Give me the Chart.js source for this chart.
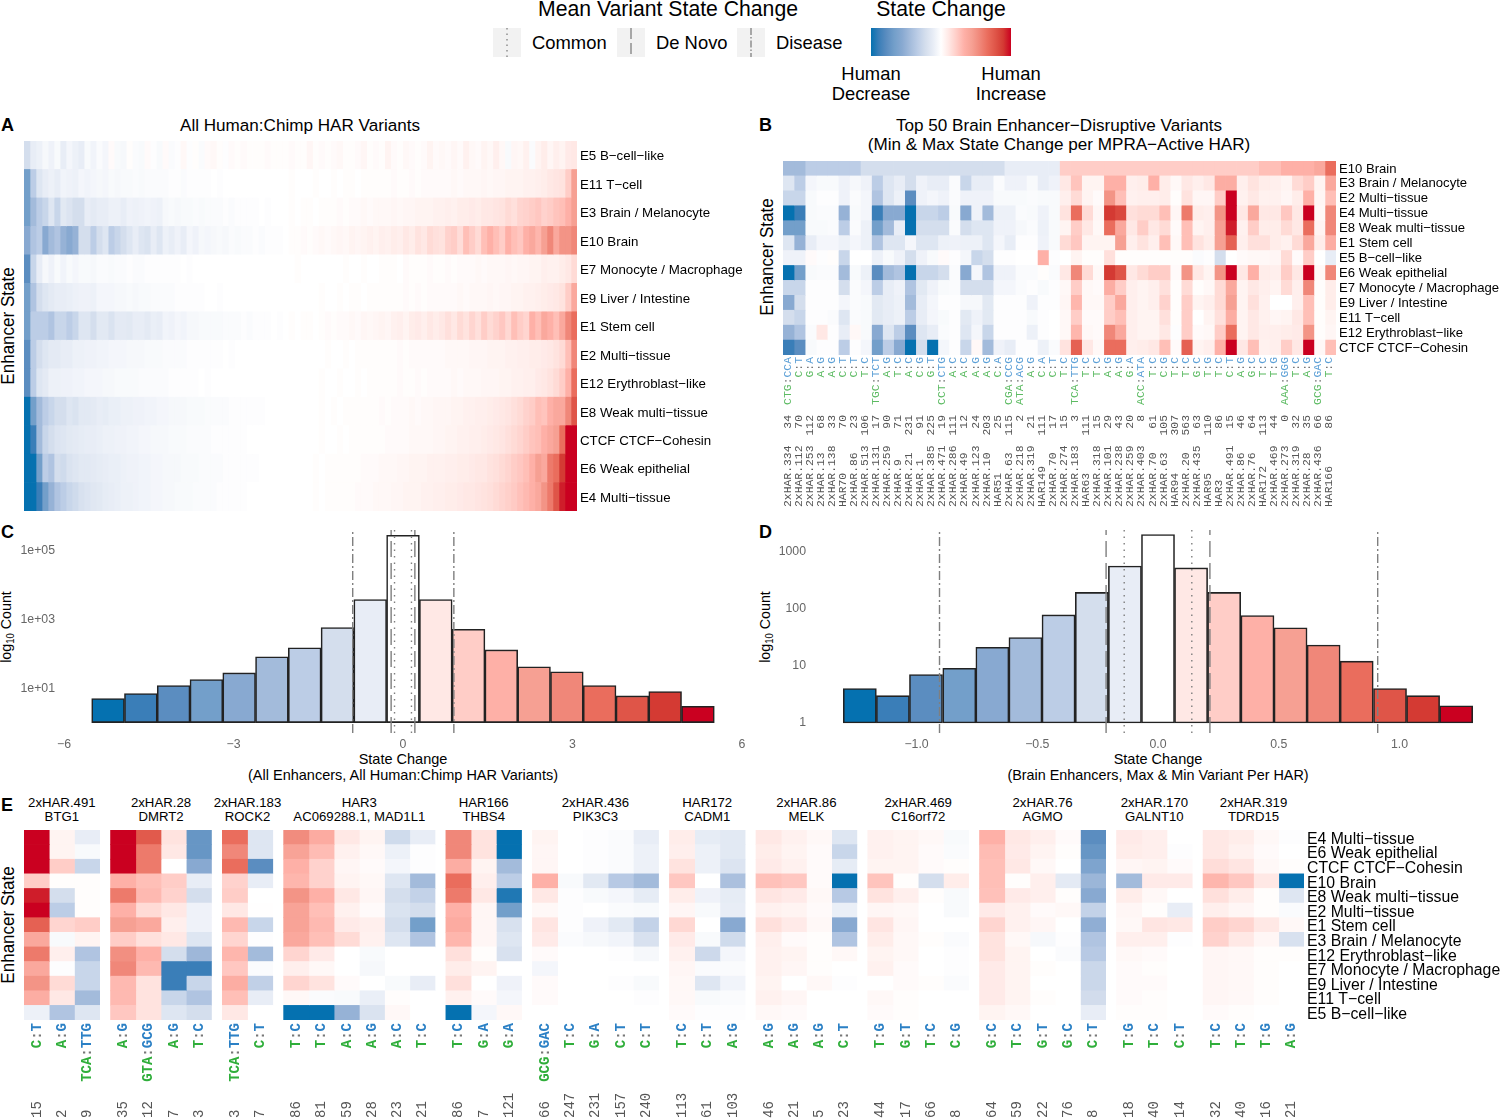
<!DOCTYPE html>
<html><head><meta charset="utf-8">
<script src="https://cdn.jsdelivr.net/npm/chart.js@4"></script>
<style>
html,body{margin:0;padding:0;background:#fff;width:1500px;height:1118px;overflow:hidden;font-family:"Liberation Sans",Arial,sans-serif;color:#000}
canvas{position:absolute}
.t{position:absolute;white-space:nowrap;line-height:1}
.v{position:absolute;white-space:nowrap;writing-mode:vertical-rl;line-height:1;font-family:"Liberation Mono",monospace}
</style></head><body>
<script>
// Shared colour scale: index 0 = strongest decrease ... index 18 = strongest increase
const PALETTE=['#0571b0','#3a7eb8','#5b8dc0','#739fca','#88a9d1','#a3bbdb','#bccde6','#d4deed','#e8edf6','#ffffff','#ffe8e5','#ffcdc7','#feb0a7','#f6a093','#f08779','#ea6d5d','#df5548','#d43a33','#ca0020'];

// Panel A: rows of state change, binned left to right along the sorted variants
const A_ROWS=['E5 B\u2212cell\u2212like','E11 T\u2212cell','E3 Brain / Melanocyte','E10 Brain','E7 Monocyte / Macrophage','E9 Liver / Intestine','E1 Stem cell','E2 Multi\u2212tissue','E12 Erythroblast\u2212like','E8 Weak multi\u2212tissue','CTCF CTCF\u2212Cohesin','E6 Weak epithelial','E4 Multi\u2212tissue'];
const A_E5=[-2,-1,-.8,-.4,-.7,-.3,-1,-.5,-.8,-1,-.3,-.6,-.2,-.5,.2,-.3,-.4,.1,-.2,-.3,.2,-.1,-.3,
.2,-.2,-.1,.3,-.1,.1,-.2,.2,.3,.1,-.1,.2,.1,.2,.1,.1,.1,.2,.1,.1,.1,.2,.1,
.1,.4,.1,.2,.1,.2,.3,.1,.1,.2,.4,.1,.2,.1,.5,.2,.1,.3,.2,.1,.2,.5,.2,
.3,.2,.4,.2,.6,.3,.2,.5,.3,.7,.3,-.3,.4,.3,.6,-.2,.5,.8,.4,.7,.5,.9,1];
const A_E11=[-6,-3,-1.5,-1,-.8,-1,-.6,-.7,-.8,-.5,-.6,-.5,-.4,-.5,-.3,-.4,-.3,-.3,-.2,-.3,-.2,-.2,-.2,
-.2,-.1,-.1,-.2,-.1,-.1,-.1,-.1,0,-.1,0,0,0,0,0,0,0,0,0,0,0,.1,0,
0,0,.1,0,0,.1,0,.1,.1,0,.1,.1,.1,.1,.1,.2,.1,.1,.2,.1,.2,.2,.2,
.2,.2,.3,.2,.3,.3,.3,.4,.3,.4,.4,.5,.5,.5,.6,.6,.7,.8,1,1.1,1.2,2,4];
const A_E3=[-6,-4,-3,-2.5,-1.5,-2.5,-1.3,-1.6,-2,-2,-1,-1.2,-1,-1,-.8,-.8,-1,-.7,-.8,-.7,-.6,-.7,-.8,
-.4,-.3,-.4,-.3,-.3,-.2,-.3,-.2,-.2,-.2,-.1,-.2,-.1,-.1,-.1,-.1,0,-.1,0,0,0,.1,0,
.1,.1,0,.1,.1,.1,.2,.1,.2,.2,.3,.2,.3,.3,.3,.4,.3,.4,.4,.5,.5,.5,.6,
.6,.7,.6,.8,.8,.9,.8,1,1,1.1,1.2,1.5,1.3,1.7,1.8,2,2.2,1.8,2,2.3,2.5,3,4];
const A_E10=[-5,-3.5,-3,-5,-4,-3.5,-4.5,-5,-4.5,-2,-2,-3,-2,-1.5,-3,-2.5,-2,-1.5,-1,-1.5,-1.7,-1,-1.5,
-.8,-1,-.7,-1,-.5,-.7,-.4,-.5,-.4,-.3,-.4,-.2,-.3,-.2,-.2,-.1,-.2,-.1,-.1,-.1,0,.1,.1,
.2,.1,.2,.3,.2,.3,.4,.3,.5,.4,.5,.6,.5,.7,.6,.8,.7,1,.8,1.2,1,1.5,1.3,
1.2,1.8,2,1.4,2.5,2,1.5,2.5,3,2.5,2,3,2.5,2.2,3,3.5,2.8,4,5,3.5,4.5,4.5,5];
const A_E7=[-7,-2.5,-1,-.4,-.7,-.3,-.6,-.3,-.5,-.3,-.3,-.4,-.2,-.2,-.3,-.2,-.2,-.1,-.2,-.2,-.1,-.1,-.1,
-.1,-.1,-.1,0,-.1,0,0,0,0,0,0,0,0,0,0,0,0,0,0,0,0,0,.1,0,
0,0,0,0,0,0,.1,0,0,.1,0,0,.1,.1,.1,0,.2,.1,.1,.1,.2,.1,.1,
.2,.1,.2,.2,.2,.3,.2,.3,.3,.3,.4,.3,.4,.4,.5,.5,.7,.6,.6,.8,1,1.5,4];
const A_E9=[-6,-3.5,-2,-1.5,-1.2,-1,-1,-.9,-.8,-.7,-.7,-.8,-.5,-.5,-.5,-.4,-.4,-.3,-.4,-.3,-.3,-.2,-.2,
-.2,-.2,-.1,-.1,-.1,-.1,-.1,0,0,-.1,0,0,0,0,0,0,0,0,0,0,0,0,0,
0,0,0,.1,0,0,.1,0,.1,.1,0,.1,.1,.1,.1,.1,.1,.2,.1,.2,.1,.2,.2,
.2,.2,.2,.3,.2,.3,.3,.3,.4,.3,.4,.4,.5,.5,.6,.6,.7,.8,.9,1,1.2,2,3.5];
const A_E1=[-6,-3,-3,-3,-3.5,-2.5,-2.5,-3,-2.5,-1.5,-1.5,-2,-1.3,-1.3,-1.7,-1.2,-1.2,-1.3,-1,-1,-1.2,-.9,-1,
-.6,-.7,-.5,-.6,-.4,-.4,-.3,-.3,-.3,-.3,-.2,-.2,-.2,-.1,-.2,-.1,-.1,-.1,0,-.1,0,.1,0,
.1,.1,0,.1,.2,.1,.2,.2,.3,.2,.4,.3,.4,.5,.4,.6,.7,.5,.8,.9,.7,1,.8,
1,1.3,1,1.5,1.2,1.7,1.3,2,1.5,1.8,2.2,1.6,2.5,2,1.7,3,2.5,3.5,3,2.5,3.5,5,6];
const A_E2=[-7,-3,-2,-1.5,-1.2,-1.2,-1,-1,-.8,-.8,-.7,-.7,-.6,-.6,-.5,-.5,-.5,-.4,-.4,-.4,-.3,-.3,-.3,
-.2,-.2,-.2,-.2,-.1,-.1,-.1,-.1,-.1,-.1,0,-.1,0,0,0,0,0,0,0,0,0,0,0,
0,0,0,0,.1,0,0,.1,0,.1,.1,.1,.1,.1,.1,.1,.2,.1,.2,.2,.2,.2,.2,
.2,.3,.3,.3,.3,.4,.4,.4,.5,.5,.5,.6,.6,.7,.7,.8,.8,.9,1,1.2,1.5,2.5,5];
const A_E12=[-7,-3,-1.5,-1.2,-.8,-.8,-.7,-.7,-.6,-.6,-.5,-.5,-.5,-.4,-.4,-.3,-.3,-.3,-.3,-.2,-.2,-.2,-.2,
-.2,-.1,-.1,-.1,-.1,-.1,0,-.1,0,0,0,0,0,0,0,0,0,0,0,0,0,0,0,
0,0,0,.1,0,0,.1,0,0,.1,0,.1,.1,.1,.1,.1,.2,.1,.1,.2,.1,.2,.2,
.2,.2,.3,.2,.3,.3,.3,.4,.4,.4,.5,.5,.6,.6,.7,.7,.9,1,1.2,1.5,2,3,6];
const A_E8=[-9,-6,-4,-3,-2.5,-2,-2,-1.5,-1.7,-1.3,-1.3,-1.2,-1,-1.1,-.9,-.9,-.8,-.8,-.7,-.7,-.6,-.6,-.5,
-.5,-.4,-.4,-.4,-.3,-.3,-.3,-.2,-.2,-.2,-.2,-.1,-.1,-.1,-.1,-.1,-.1,0,0,0,0,0,0,
0,0,0,.1,0,.1,0,.1,.1,.1,.1,.1,.1,.2,.1,.2,.2,.2,.3,.2,.3,.3,.4,
.4,.4,.5,.5,.6,.6,.7,.7,.8,.9,1,1.1,1.3,1.5,1.8,2,2.5,2.3,3,3.5,3.5,5,7];
const A_CTCF=[-9,-8,-4,-2.5,-2,-1.6,-1.5,-1.3,-1.2,-1.1,-1,-1,-.9,-.8,-.8,-.7,-.7,-.6,-.6,-.5,-.5,-.4,-.4,
-.4,-.3,-.3,-.3,-.2,-.2,-.2,-.2,-.1,-.1,-.1,-.1,-.1,-.1,0,0,0,0,0,0,0,0,0,
0,0,0,.1,0,0,.1,0,.1,.1,.1,.1,.1,.1,.2,.2,.2,.2,.3,.3,.3,.3,.4,
.4,.5,.5,.6,.6,.7,.7,.8,.9,1,1.1,1.3,1.5,1.7,2,2.3,2.5,3,3.5,4,6,9,9];
const A_E6=[-9,-9,-6,-3,-3.5,-2,-2.2,-1.7,-1.5,-1.3,-1.3,-1.2,-1.1,-1,-.9,-.9,-.8,-.7,-.7,-.6,-.6,-.5,-.5,
-.4,-.4,-.4,-.3,-.3,-.3,-.2,-.2,-.2,-.2,-.1,-.1,-.1,-.1,-.1,-.1,0,0,0,0,0,0,0,
0,0,.1,0,.1,.1,.1,.1,.1,.1,.2,.2,.2,.3,.3,.3,.4,.4,.5,.5,.5,.6,.6,
.6,.7,.7,.8,.8,.9,1,1,1.2,1.3,1.5,1.7,2,2.2,2.5,3,4,3.5,5.5,6,8,9,9];
const A_E4=[-9,-9,-8,-6,-4.5,-3.5,-3,-2.5,-2.2,-1.8,-1.6,-1.4,-1.3,-1.1,-1,-.9,-.8,-.8,-.7,-.6,-.6,-.5,-.5,
-.4,-.4,-.3,-.3,-.3,-.2,-.2,-.2,-.2,-.1,-.1,-.1,-.1,-.1,0,0,0,0,0,0,0,0,0,
0,0,.1,0,.1,.1,.1,.1,.1,.2,.2,.2,.3,.3,.3,.4,.4,.5,.5,.5,.6,.6,.7,
.7,.8,.8,.9,1,1,1.1,1.2,1.3,1.5,1.7,1.9,2.1,2.4,2.7,3,3.5,4.5,5.5,7,8.5,9,9];

// Panel B
const B_ROWS=['E10 Brain','E3 Brain / Melanocyte','E2 Multi\u2212tissue','E4 Multi\u2212tissue','E8 Weak multi\u2212tissue','E1 Stem cell','E5 B\u2212cell\u2212like','E6 Weak epithelial','E7 Monocyte / Macrophage','E9 Liver / Intestine','E11 T\u2212cell','E12 Erythroblast\u2212like','CTCF CTCF\u2212Cohesin'];
const B_E10=[-4,-4,-3,-3,-3,-3,-3,-2,-2,-2,-2,-2,-2,-2,-2,-2,-2,-2,-2,-2,-1,-1,-1,-1,-1, 2,2,2,2,2,2,2,2,2,2,2,2,2,2,2,2,2,2,2.5,2.5,3,3,3,3.5,6];
const B_E3=[-1.5,-3,-.5,-.3,-.3,-.7,-.4,-.7,-3,-1.5,-1,-2,-.7,-1,-1,-.2,-2.5,-1,-1,-.2,-.7,-.7,-.3,-1,-.7, 1,2.3,.5,.5,3,3,.7,.8,3,.8,.3,1,.7,1,3.2,3.2,.7,1.2,.8,.7,.5,1.5,2,.5,3.5];
const B_E2=[-2.5,-2.5,-.3,-.1,-.1,-.7,-.2,-.5,-3.5,-1.5,-.8,-7,-.7,-.5,-.7,-.2,-.7,-.7,-.7,-.3,-.3,-.3,-.2,-.3,-.3, .7,1.5,.5,.2,4.5,2.5,.6,.7,.7,.8,.1,1.2,.4,.4,2,9,.6,1,.6,.6,.4,.8,3,.4,2.5];
const B_E4=[-9,-8,-.3,-.2,-.2,-4.5,-.3,-.5,-8,-5,-5,-9,-2.5,-2.5,-3,-.3,-5,-.7,-4,-.8,-.8,-.2,-.3,-.7,-.3, 1.2,6,1.5,.4,8,7.5,1.3,1.5,1.5,2.5,.4,5.5,.8,.7,4.5,9,1,3.5,1,1,2.2,1,9,.3,5];
const B_E8=[-6,-6,-.3,-.3,-.2,-3,-.2,-.8,-6,-4,-1,-9,-2,-2,-2,-.2,-2,-1.5,-1.5,-.7,-.7,-.4,-.2,-.8,-.3, .5,2,1,.3,6,3.5,1,2,1,1.5,.2,2.5,.5,.7,4,8.5,.6,2,.8,.8,1.5,1,6,.5,5];
const B_E1=[-1.5,-4.5,-1,-.5,-.5,-.8,-.5,-.8,-3.5,-1.5,-1.5,-.5,-1.5,-1.5,-.8,-.7,-.8,-.8,-1.5,-.5,-1,-.1,-.1,-.7,-.3, 1.5,2.2,.5,.5,.5,4,.7,1.2,.7,2.5,.3,2.5,1.2,.8,4,6.5,.7,1.3,1.3,.8,.6,1.5,3.5,.8,3.2];
const B_E5=[-.7,-.7,.2,-.1,.1,-2.5,0,0,-.8,-.3,-.7,-2,-.7,-.3,.2,-.1,-.5,-2.5,-2,-.1,-.1,0,0,3,-.1, 0,.5,.1,.1,1.3,.1,.1,.1,.1,.1,.1,.1,-.2,-.1,-2,0,.2,.3,.3,.4,1.5,.2,2,0,-1];
const B_E6=[-9,-6,-.3,-.2,-.2,-4,-.3,-.8,-7,-4,-3.5,-9,-2.5,-2.5,-2,-.2,-5,-.5,-3.5,-.7,-.7,-.2,-.2,.1,-.2, 1,5,1.5,.3,8,7,1,1.5,2,2,.2,4.5,1,.5,4.5,9,1,3,.8,.7,2,1,9,.3,5];
const B_E7=[-2.5,-2.5,-.1,-.1,-.1,-2,-.2,-.5,-3,-1,-.7,-3.5,-1.3,-.7,-.3,-.2,-2,-2,-2,-.5,-.5,-.2,-.1,-.3,-.1, .3,2,.3,.2,3.2,2,.7,.5,.7,1.3,.1,1.5,.1,.3,1.5,3.5,.5,1,.7,.5,1.5,.7,5,.1,.8];
const B_E9=[-5,-2,-.1,-.1,-.1,-.5,-.2,-.3,-1.3,-1,-.8,-4,-1,-.5,-.1,-.1,-.4,-.4,-1.3,-.1,-.1,-.1,-.7,-.1,-.1, .4,2.8,.3,.3,2,3.5,.7,.5,.7,1.8,.1,2,.5,.7,1.5,4,.5,1.3,.6,0,0,.7,2.5,.1,.8];
const B_E11=[-2,-2.5,-.1,-.1,-.2,-1.5,-.2,-.3,-1.3,-1,-.8,-3,-1,-.5,-.3,-.1,-1.3,-.7,-1.3,-.1,-.1,-.1,-.3,-.1,0, .3,2,.2,.2,2,2.5,.7,.5,.5,1.3,.1,2,0,.5,1.3,3.2,.5,1,.6,.4,.5,1,2.5,.1,.5];
const B_E12=[-4.5,-3.5,-.2,1,-.1,-1,.3,-.3,-5,-1.5,-3,-7,-1.5,-1,-.2,-.1,-1.5,-.5,-2.5,-.1,-.1,-.1,-.8,-.1,0, .3,2.8,.3,.2,5,3.5,.7,.5,.5,1,-.1,2,.2,.3,2,6,.5,1,.7,.7,.8,.9,4.5,.1,.4];
const B_CTCF=[-8,-7,-.3,-.1,-.1,-3,-.1,-.5,-6,-3,-5,-9,-2,-9,-.5,-.1,-2.5,.3,-4,-.7,-1,-.1,-.1,-.8,-.2, 1.2,6.5,1,.3,6,6,.7,.8,1,2.5,.2,6.5,.5,.7,3,9,1,2.5,.6,.7,2,1,9,.3,2.5];
const B_VARIANTS=['CTG:CCA','C:T','G:A','A:G','A:G','C:T','C:T','T:C','TGC:TCT','A:G','T:C','A:C','C:G','G:T','CCT:CTG','A:C','A:C','A:G','A:G','C:A','CGA:CCG','ATA:ACG','A:G','C:A','C:T','T:C','TCA:TTG','T:C','T:C','A:G','A:G','G:A','ACC:ATA','T:C','C:G','T:C','T:C','G:C','T:G','T:C','C:T','A:G','G:C','T:C','T:G','AAA:GGG','T:C','A:G','GCG:GAC','T:C'];
const B_COUNTS=[34,70,112,68,33,70,23,106,17,90,71,231,91,225,19,111,12,24,203,25,115,2,21,111,17,15,3,111,15,29,43,20,8,61,105,307,563,63,110,86,15,46,64,113,44,0,32,35,66,86];
const B_HARS=['2xHAR.334','2xHAR.112','2xHAR.253','2xHAR.13','2xHAR.138','HAR70','2xHAR.86','2xHAR.513','2xHAR.131','2xHAR.259','2xHAR.9','2xHAR.21','2xHAR.1','2xHAR.385','2xHAR.471','2xHAR.286','2xHAR.49','2xHAR.123','2xHAR.10','HAR51','2xHAR.63','2xHAR.218','2xHAR.319','HAR149','2xHAR.70','2xHAR.274','2xHAR.183','HAR63','2xHAR.318','2xHAR.101','2xHAR.238','2xHAR.259','2xHAR.403','2xHAR.70','2xHAR.63','HAR94','2xHAR.20','2xHAR.435','HAR95','HAR3','2xHAR.491','2xHAR.86','2xHAR.76','HAR172','2xHAR.469','2xHAR.273','2xHAR.319','2xHAR.28','2xHAR.436','HAR166'];

// Panels C and D
const C_COUNTS=[5,7,12,18,28,82,150,580,3800,280000,3800,520,130,42,30,12,6,8,3];
const C_CENTERS=[-5.22,-4.64,-4.06,-3.48,-2.9,-2.32,-1.74,-1.16,-.58,0,.58,1.16,1.74,2.32,2.9,3.48,4.06,4.64,5.22];
const C_XTICKS=[-6,-3,0,3,6];
const C_YTICKS=[10,1000,100000];
const C_COMMON=[-.15,.15], C_DENOVO=[-.21,.21], C_DISEASE=[-.89,.9];
const D_COUNTS=[4,3,7,9,21,31,77,190,550,1950,510,190,75,46,23,12,4,3,2];
const D_CENTERS=[-1.235,-1.098,-.961,-.823,-.686,-.549,-.412,-.274,-.137,0,.137,.274,.412,.549,.686,.823,.961,1.098,1.235];
const D_XTICKS=[-1,-.5,0,.5,1];
const D_YTICKS=[1,10,100,1000];
const D_COMMON=[-.14,.14], D_DENOVO=[-.215,.215], D_DISEASE=[-.905,.91];

// Panel E
const E_ROWS=['E4 Multi\u2212tissue','E6 Weak epithelial','CTCF CTCF\u2212Cohesin','E10 Brain','E8 Weak multi\u2212tissue','E2 Multi\u2212tissue','E1 Stem cell','E3 Brain / Melanocyte','E12 Erythroblast\u2212like','E7 Monocyte / Macrophage','E9 Liver / Intestine','E11 T\u2212cell','E5 B\u2212cell\u2212like'];
const E_HAR=['2xHAR.491','2xHAR.28','2xHAR.183','HAR3','HAR166','2xHAR.436','HAR172','2xHAR.86','2xHAR.469','2xHAR.76','2xHAR.170','2xHAR.319'];
const E_GENE=['BTG1','DMRT2','ROCK2','AC069288.1, MAD1L1','THBS4','PIK3C3','CADM1','MELK','C16orf72','AGMO','GALNT10','TDRD15'];
const E_SIZES=[3,4,2,6,3,5,3,4,4,5,3,4];
const E_VARIANTS=['C:T','A:G','TCA:TTG','A:G','GTA:GCG','A:G','T:C','TCA:TTG','C:T','T:C','T:C','A:C','A:G','A:C','T:C','T:C','G:A','G:A','GCG:GAC','T:C','G:A','C:T','C:T','T:C','C:T','A:G','A:G','A:G','A:G','C:T','T:G','G:T','T:C','C:G','G:C','T:C','G:T','G:C','C:T','T:G','T:C','C:T','T:C','T:C','T:G','A:G'];
const E_COUNTS=[15,2,9,35,12,7,3,3,7,86,81,59,28,23,21,86,7,121,66,247,231,157,240,113,61,103,46,21,5,23,44,17,66,8,64,59,22,76,8,18,40,14,32,40,16,21];
const E_E4=[9,.5,-1, 9,6.8,1.2,-6.5, 6,-1.5, 4.8,3.3,1,.5,-2.2,-1, 5,1.2,-9, .5,0,-.1,-.2,-1, .8,-1.1,-1.3, 1,.6,.3,-1.5, .6,.5,.3,-.3, 3,1,.7,.2,-7, .9,.7,0, 1,.8,.3,-.1];
const E_E6=[9,.5,-.3, 9,5.5,1,-6.5, 5,-1.5, 3.8,2.6,.6,.3,-.8,-.1, 5,1.2,-9, .4,0,-.1,-.2,-.8, .7,-.8,-1.3, .8,.5,.2,-2.5, .6,.5,.2,-.2, 2.6,.9,.5,.1,-6.5, .8,.7,-.1, 1,.6,.2,0];
const E_CTCF=[9,2,-2.5, 9,5.5,0,-5, 6,-7, 3,1.8,.4,.2,-.5,-.1, 3.2,.5,-4, .4,0,-.1,-.2,-.8, 1.2,-.8,-1.6, .9,.6,.2,-1.1, .5,.5,.2,.1, 2.5,1,.3,0,-5.5, .4,.5,.2, 1.4,1.1,.3,.1];
const E_E10=[2,.1,.1, 3,2.5,2,-1, 1.8,-1, 2.8,1.8,.5,.3,-1.5,-4, 6,.7,-3, 3,-.3,-1.3,-3.2,-4, 2.2,0,-3.7, 2.4,2.2,.2,-9, 2.3,.1,-2,.8, 2.5,.1,.7,-1.2,-4.3, -4,.9,.9, 2.8,2.2,1,-9];
const E_E8=[8.5,-2,.1, 5.5,2.7,1.8,-2, 2,0, 4.5,3,1,.4,-2,-2.7, 5.5,1,-8.5, 1,-.1,-.3,-.5,-1.1, .8,-.7,-1.1, 1.1,.9,.3,-3.2, 1.2,.7,.1,-.3, 2.4,.9,.7,.1,-5, .8,.3,0, 1.3,.8,.1,-1.5];
const E_E2=[9,-3,.1, 3,1.5,1,-.7, 1,.05, 3.8,2.5,.6,.2,-1.7,-2, 3,.4,-6, .3,-.1,0,-.2,-.3, .4,-.3,-1, .6,.5,.2,-.9, .4,.3,0,-.3, .9,.6,.2,.3,-2.7, .4,.1,-1, .7,.4,.1,-.2];
const E_E1=[6.5,1.7,2, 4,3.5,.7,-.7, 2.7,-2.5, 3.8,2.7,.9,.7,-2,-6, 3.3,.4,-1.8, 1.1,-.1,-.7,-1.3,-2.7, 1.6,0,-5, 1.3,.9,.3,-5, 1.1,.4,0,0, 1.7,.6,.4,0,-4.7, .3,1.1,1, 2,1.7,1,.3];
const E_E3=[3.5,-.3,.5, 2,1.3,1,-1.5, 1.7,-.1, 3.5,2.5,1.5,.6,-1.5,-3.5, 2.8,.4,-1.5, .9,-.2,-.4,-.6,-1.8, .9,-.3,-2.2, .7,.2,.1,-3.5, .8,.3,.1,-.2, 1.2,.3,-.4,-.1,-3.5, .7,.7,-.1, 1.8,1,.4,-1.8];
const E_E12=[5.5,.7,-3.5, 4.7,3,-2,-4.2, 2.8,-4, 1.7,.9,0,-.3,0,0, 1.3,.1,-1.8, .2,0,0,-.1,-.4, .6,-2.3,-.5, .6,.5,.1,.3, .5,.3,0,-.1, 1.2,.5,0,-.2,-3.2, .3,.2,0, .4,.3,.1,.1];
const E_E7=[3.5,-.1,-2.5, 5,2.7,-8,-8, 2.2,-.2, .7,.3,0,-.4,0,0, .8,.5,0, -.5,0,0,0,0, .4,-.2,-.2, .6,.4,.1,0, .6,.2,0,-.1, .9,.5,.1,0,-2.4, .2,.1,0, .4,.3,.1,0];
const E_E9=[4.5,1.5,-2.5, 2.7,1.2,-8,-2.5, 3.2,-2.8, 1.7,1.2,.2,0,-.3,-1, 1.3,0,-.7, .2,0,0,-.1,-.3, .3,-1.5,-.6, .5,0,.3,-.1, 0,.2,.1,-.2, .9,.5,0,0,-2.4, .2,.2,0, .4,.3,.1,0];
const E_E11=[3.2,1,-4, 2.7,1.2,-2.5,-3.5, 2.5,-1, .3,-.2,-.3,-.9,.1,0, .6,.2,-.5, .2,0,0,0,-.1, .3,-.3,-.2, .6,.4,0,0, .3,.1,0,0, .9,.5,.1,0,-2.1, .2,.1,0, .4,.3,.1,0];
const E_E5=[-.8,-3.5,-1.5, 2.2,1.2,-1.5,-2, 1,0, -9,-9,-4.5,-1.7,.3,0, -9,-.5,.3, 0,0,0,0,0, .2,-.1,-.1, .3,.2,0,0, .2,.1,0,0, .5,.3,0,0,-1, .1,.1,0, .2,.1,0,0];

// ---------- helpers ----------
const SANS='"Liberation Sans",Arial,sans-serif';
function hex(c){return [1,3,5].map(i=>parseInt(c.substr(i,2),16));}
function colorOf(v){
  const p=Math.max(-9,Math.min(9,v))+9,i=Math.min(17,Math.floor(p)),f=p-i,a=hex(PALETTE[i]),b=hex(PALETTE[i+1]);
  return 'rgb('+a.map((x,k)=>Math.round(x+(b[k]-x)*f)).join(',')+')';
}
function mk(left,top,w,h){
  const c=document.createElement('canvas');c.width=w;c.height=h;
  c.style.left=left+'px';c.style.top=top+'px';c.style.width=w+'px';c.style.height=h+'px';
  document.body.appendChild(c);return c;
}
function text(x,y,s,o){
  o=o||{};const d=document.createElement('div');d.className='t';
  d.innerHTML=s;d.style.left=x+'px';d.style.top=y+'px';
  d.style.fontSize=(o.size||14)+'px';
  if(o.bold)d.style.fontWeight='bold';
  if(o.color)d.style.color=o.color;
  const ax=o.align==='left'?'0':'-50%';
  d.style.transform='translate('+ax+',-50%)'+(o.rot?' rotate('+o.rot+'deg)':'')+(o.sx?' scaleX('+o.sx+')':'');
  document.body.appendChild(d);return d;
}
function vtext(x,y,html,size,color,anchorBottom,weight){
  const d=document.createElement('div');d.className='v';d.innerHTML=html;
  d.style.left=x+'px';d.style.top=y+'px';d.style.fontSize=size+'px';
  if(color)d.style.color=color;
  if(weight)d.style.fontWeight=weight;
  d.style.transform='translate(-50%,'+(anchorBottom?'-100%':'0')+') rotate(180deg)';
  document.body.appendChild(d);return d;
}
function variantHtml(v,g,b){
  const p=v.split(':');
  return '<span style="color:'+g+'">'+p[0]+'</span><span style="color:#777">:</span><span style="color:'+b+'">'+p[1]+'</span>';
}
const noPad=s=>{s.paddingTop=0;s.paddingBottom=0;s.paddingLeft=0;s.paddingRight=0;};
function heat(o){
  const nCols=o.rows[0].length,ds=[];
  let g=0,inGroup=0;
  for(let c=0;c<nCols;c++){
    ds.push({data:o.rows.map(()=>1),backgroundColor:o.rows.map(r=>colorOf(r[c])),borderWidth:0,barPercentage:1,categoryPercentage:1});
    if(o.sizes){
      inGroup++;
      if(inGroup===o.sizes[g]&&g<o.sizes.length-1){
        ds.push({data:o.rows.map(()=>o.gap),backgroundColor:'rgba(0,0,0,0)',borderWidth:0,barPercentage:1,categoryPercentage:1});
        g++;inGroup=0;
      }
    }
  }
  const total=nCols+(o.sizes?(o.sizes.length-1)*o.gap:0);
  return new Chart(o.canvas,{type:'bar',data:{labels:o.labels,datasets:ds},options:{
    indexAxis:'y',responsive:false,animation:false,events:[],
    layout:{padding:o.padding},
    plugins:{legend:{display:false},tooltip:{enabled:false}},
    scales:{
      x:{type:'linear',stacked:true,min:0,max:total,display:false},
      y:{type:'category',stacked:true,position:'right',offset:true,
        grid:{display:false,drawTicks:false},border:{display:false},
        ticks:{color:'#000',autoSkip:false,maxRotation:0,minRotation:0,padding:o.tickPad,labelOffset:o.labelOffset,font:{family:SANS,size:o.font}},
        afterFit:s=>{s.width=o.axisWidth;noPad(s);}}
    }}});
}
function hist(o){
  const ys=[o.ymin,o.ymax];
  const vl=(arr,dash,w)=>arr.map(x=>({type:'line',data:ys.map(y=>({x:x,y:y})),borderColor:'#7f7f7f',borderWidth:w,borderDash:dash,pointRadius:0,order:0,fill:false}));
  return new Chart(o.canvas,{type:'bar',data:{datasets:[
    {type:'bar',data:o.centers.map((x,i)=>({x:x,y:o.counts[i]})),base:1,backgroundColor:PALETTE,borderColor:'#222',borderWidth:1.6,borderSkipped:false,barPercentage:1,categoryPercentage:1,order:1},
    ...vl(o.common,[1.5,5],1.4),...vl(o.denovo,[16,6],1.4),...vl(o.disease,[9,3,2,3],1.4)
  ]},options:{
    responsive:false,animation:false,events:[],
    layout:{padding:o.padding},
    plugins:{legend:{display:false},tooltip:{enabled:false}},
    scales:{
      x:{type:'linear',offset:false,min:o.xmin,max:o.xmax,grid:{display:false,drawTicks:false,offset:false},border:{display:false},
        afterBuildTicks:s=>{s.ticks=o.xticks.map(v=>({value:v}));},
        ticks:{color:'#666',padding:4,autoSkip:false,maxRotation:0,font:{family:SANS,size:12.3},callback:o.xfmt},
        afterFit:s=>{s.height=o.xh;noPad(s);}},
      y:{type:'logarithmic',min:o.ymin,max:o.ymax,grid:{display:false,drawTicks:false},border:{display:false},
        afterBuildTicks:s=>{s.ticks=o.yticks.map(v=>({value:v}));},
        ticks:{color:'#666',padding:o.ypad,autoSkip:false,font:{family:SANS,size:12.3},callback:o.yfmt},
        afterFit:s=>{s.width=o.yw;noPad(s);}}
    }}});
}

// ---------- legend ----------
text(668,9,'Mean Variant State Change',{size:21.2});
text(941,9,'State Change',{size:21.2});
[[493,'Common','1.5 4',532],[617,'De Novo','11 4',656],[737,'Disease','7 2 1.5 2',776]].forEach(k=>{
  const d=document.createElement('div');
  d.style.cssText='position:absolute;left:'+k[0]+'px;top:28px;width:28px;height:29px;background:#f2f2f2';
  d.innerHTML='<svg width="28" height="29" style="display:block"><line x1="14" y1="0" x2="14" y2="29" stroke="#7f7f7f" stroke-width="1.3" stroke-dasharray="'+k[2]+'"/></svg>';
  document.body.appendChild(d);
  text(k[3],43,k[1],{size:18.4,align:'left'});
});
const cb=document.createElement('div');
cb.style.cssText='position:absolute;left:871px;top:28px;width:140px;height:28px;background:linear-gradient(to right,'+PALETTE.join(',')+')';
document.body.appendChild(cb);
text(871,74,'Human',{size:18.4});text(871,94,'Decrease',{size:18.4});
text(1011,74,'Human',{size:18.4});text(1011,94,'Increase',{size:18.4});

// ---------- panel letters, titles ----------
text(1,125,'A',{size:18,bold:true,align:'left'});
text(759,125,'B',{size:18,bold:true,align:'left'});
text(1,532,'C',{size:18,bold:true,align:'left'});
text(759,532,'D',{size:18,bold:true,align:'left'});
text(1,805,'E',{size:18,bold:true,align:'left'});
text(300,126,'All Human:Chimp HAR Variants',{size:17.1});
text(1059,126,'Top 50 Brain Enhancer\u2212Disruptive Variants',{size:17.1});
text(1059,145,'(Min &amp; Max State Change per MPRA\u2212Active HAR)',{size:17.1});
text(8,326,'Enhancer State',{size:18,rot:-90,sx:.945});
text(767,257,'Enhancer State',{size:18,rot:-90,sx:.945});
text(8,925,'Enhancer State',{size:18,rot:-90,sx:.945});
const logLabel='log<sub style="font-size:10px;vertical-align:-3px">10</sub> Count';
text(7,627,logLabel,{size:15,rot:-90,sx:.95});
text(766,627,logLabel,{size:15,rot:-90,sx:.95});
text(403,759,'State Change',{size:14.5});
text(403,775,'(All Enhancers, All Human:Chimp HAR Variants)',{size:14.5});
text(1158,759,'State Change',{size:14.5});
text(1158,775,'(Brain Enhancers, Max &amp; Min Variant Per HAR)',{size:14.4});

// ---------- panel A ----------
heat({canvas:mk(0,136,750,380),labels:A_ROWS,
  rows:[A_E5,A_E11,A_E3,A_E10,A_E7,A_E9,A_E1,A_E2,A_E12,A_E8,A_CTCF,A_E6,A_E4],
  padding:{left:24,top:5,bottom:5,right:0},axisWidth:173,tickPad:3,font:13.3,labelOffset:1.5});

// ---------- panel B ----------
const BLEFT=750;
const chartB=heat({canvas:mk(BLEFT,156,750,204),labels:B_ROWS,
  rows:[B_E10,B_E3,B_E2,B_E4,B_E8,B_E1,B_E5,B_E6,B_E7,B_E9,B_E11,B_E12,B_CTCF],
  padding:{left:33,top:5,bottom:5,right:0},axisWidth:164,tickPad:3,font:13.1,labelOffset:.5});
B_VARIANTS.forEach((v,i)=>{
  const x=BLEFT+chartB.scales.x.getPixelForValue(i+.5);
  vtext(x,357,variantHtml(v,'#5dbb63','#5b9fd6'),11.4);
  vtext(x,415,String(B_COUNTS[i]),11.4,'#555');
  vtext(x,507,B_HARS[i],11.4,'#555',true);
});

// ---------- panels C, D ----------
const supFmt=v=>{const e=Math.round(Math.log10(v));return '1e+'+(e<10?'0':'')+e;};
hist({canvas:mk(0,525,750,230),centers:C_CENTERS,counts:C_COUNTS,xmin:-6,xmax:6,ymin:.5,ymax:398000,
  xticks:C_XTICKS,yticks:C_YTICKS,common:C_COMMON,denovo:C_DENOVO,disease:C_DISEASE,
  padding:{top:5,right:8,left:0,bottom:0},xh:22,yw:64,ypad:9,
  xfmt:v=>String(v).replace('-','\u2212'),yfmt:supFmt});
hist({canvas:mk(750,525,750,230),centers:D_CENTERS,counts:D_COUNTS,xmin:-1.4,xmax:1.4,ymin:.669,ymax:2336,
  xticks:D_XTICKS,yticks:D_YTICKS,common:D_COMMON,denovo:D_DENOVO,disease:D_DISEASE,
  padding:{top:5,right:4,left:0,bottom:0},xh:22,yw:70,ypad:14,
  xfmt:v=>v.toFixed(1).replace('-','\u2212'),yfmt:v=>String(v)});

// ---------- panel E ----------
const E_GAP=.43;
const chartE=heat({canvas:mk(0,825,1500,200),labels:E_ROWS,
  rows:[E_E4,E_E6,E_CTCF,E_E10,E_E8,E_E2,E_E1,E_E3,E_E12,E_E7,E_E9,E_E11,E_E5],
  sizes:E_SIZES,gap:E_GAP,padding:{left:24,top:5,bottom:5,right:0},axisWidth:196,tickPad:3,font:15.8,labelOffset:2});
let pos=0,ci=0;
E_SIZES.forEach((n,g)=>{
  const xs=chartE.scales.x;
  text((xs.getPixelForValue(pos)+xs.getPixelForValue(pos+n))/2,803,E_HAR[g],{size:13.2});
  text((xs.getPixelForValue(pos)+xs.getPixelForValue(pos+n))/2,817,E_GENE[g],{size:13.2});
  for(let k=0;k<n;k++,ci++){
    const x=xs.getPixelForValue(pos+k+.5);
    vtext(x,1023,variantHtml(E_VARIANTS[ci],'#2fae3a','#2b80c5'),14,null,false,'bold');
    vtext(x,1118,String(E_COUNTS[ci]),14,'#555',true);
  }
  pos+=n+E_GAP;
});
</script>
</body></html>
